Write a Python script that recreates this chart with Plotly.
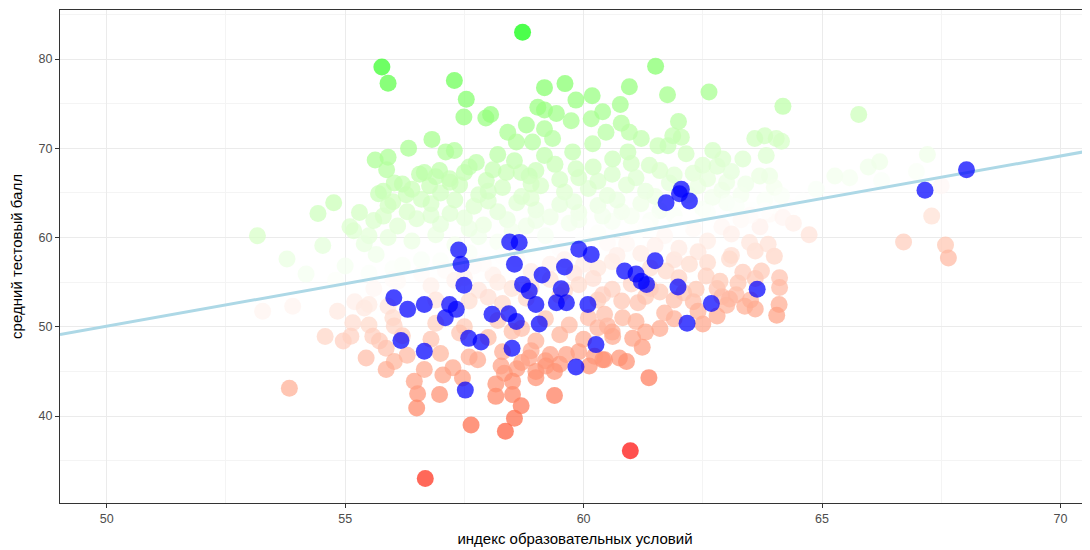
import numpy as np
import plotly.graph_objects as go

# ---------------- data ----------------
# regression line: y = trend_intercept + trend_slope * x
trend_intercept = 2.36
trend_slope = 0.954

# schools, upper (green) part of the cloud
upper_pts = [
    (58.72, 83.0), (55.77, 79.1), (55.9, 77.3), (57.29, 77.6), (57.54, 75.5), (57.49, 73.5),
    (57.95, 73.4), (58.05, 73.8), (59.18, 76.8), (59.61, 77.25), (59.84, 75.4), (60.18, 75.9),
    (59.04, 74.6), (59.18, 74.3), (59.43, 73.9), (59.74, 73.1), (58.8, 72.6), (58.41, 71.8),
    (59.18, 72.2), (56.82, 71.0), (57.11, 69.6), (57.29, 69.75), (57.75, 68.4), (58.2, 69.3),
    (58.55, 68.6), (58.59, 70.7), (58.93, 70.7), (59.35, 71.1), (59.18, 69.2), (56.66, 67.3),
    (56.98, 67.5), (57.19, 66.6), (57.5, 67.3), (56.77, 65.8), (57.96, 66.4), (58.38, 67.3),
    (58.69, 67.3), (58.86, 66.9), (59.77, 69.6), (59.84, 67.7), (60.19, 70.5), (60.16, 73.3),
    (61.51, 79.2), (60.96, 76.9), (61.76, 76.0), (62.63, 76.3), (60.77, 74.9), (60.4, 74.1),
    (60.79, 72.8), (60.96, 71.8), (60.47, 71.8), (61.99, 73.0), (61.87, 71.4), (62.05, 71.25),
    (61.21, 71.1), (61.56, 70.3), (61.77, 70.3), (60.93, 69.6), (60.61, 68.8), (62.15, 69.4),
    (62.71, 69.75), (62.92, 68.8), (63.59, 71.1), (63.8, 71.4), (64.04, 71.1), (64.18, 74.7),
    (63.34, 68.8), (63.83, 69.2), (61.38, 68.1), (62.5, 68.1), (63.69, 66.9), (63.9, 66.9),
    (64.15, 70.8), (65.77, 73.8), (56.33, 70.0), (55.63, 68.7), (55.9, 69.0), (55.87, 67.6),
    (56.03, 66.1), (55.8, 65.2), (56.28, 64.8), (56.56, 67.1), (54.76, 63.9), (54.43, 62.7),
    (53.16, 60.2), (55.18, 60.75), (55.5, 60.2), (54.53, 59.1), (53.78, 57.6), (54.18, 55.9),
    (55.0, 56.8), (55.65, 58.1),
]

# schools, dense middle band
middle_pts = [
    (56.2, 66.0), (56.9, 66.8), (57.6, 67.9), (58.1, 67.6), (59.0, 67.5), (59.4, 68.2), (60.2, 67.9),
    (60.6, 67.1), (61.0, 68.3), (61.6, 67.5), (62.3, 67.2), (62.8, 68.0), (63.1, 67.4), (59.9, 66.7),
    (55.7, 64.9), (56.4, 65.4), (57.0, 65.0), (57.4, 65.9), (57.8, 64.8), (58.3, 65.6), (58.7, 64.6),
    (59.1, 65.8), (59.6, 65.1), (60.1, 65.5), (60.5, 64.7), (60.9, 65.9), (61.3, 65.2), (61.8, 66.1),
    (62.4, 65.8), (62.9, 65.3), (63.4, 66.0), (64.0, 65.6),
    (55.3, 62.8), (55.9, 63.6), (56.3, 62.9), (56.8, 63.8), (57.2, 62.7), (57.7, 63.5), (58.2, 62.9),
    (58.6, 63.9), (59.0, 63.1), (59.5, 63.7), (59.9, 62.8), (60.3, 63.6), (60.8, 62.9), (61.2, 63.8),
    (61.6, 63.0), (62.5, 63.2), (63.0, 63.9), (63.5, 63.1), (63.9, 62.6), (64.3, 63.5),
    (55.1, 61.2), (55.6, 61.9), (56.1, 61.3), (56.5, 62.1), (57.0, 61.5), (57.5, 62.2), (57.9, 61.4),
    (58.4, 62.0), (58.8, 61.3), (59.3, 62.3), (59.7, 61.6), (60.6, 61.8), (61.0, 62.4), (61.4, 61.9),
    (61.9, 62.5), (62.3, 61.8), (62.8, 62.3), (63.3, 62.0), (63.7, 61.2), (64.4, 61.6),
    (55.4, 59.3), (55.9, 60.0), (56.4, 59.6), (56.9, 60.3), (57.3, 59.2), (57.8, 60.1), (58.2, 59.5),
    (54.8, 55.2), (55.5, 56.0), (56.2, 56.9), (57.0, 57.4), (57.6, 58.3), (58.3, 57.9), (58.9, 58.9),
    (59.5, 58.8), (60.0, 59.9), (60.5, 59.4), (61.1, 60.6), (61.7, 60.2), (62.3, 61.0), (62.9, 61.2),
    (63.5, 62.5), (64.0, 63.6), (64.6, 64.1), (60.3, 60.5), (59.2, 60.2), (58.6, 59.1), (57.4, 58.2),
    (56.0, 56.5), (56.6, 55.9), (57.1, 56.3), (57.7, 56.8), (58.1, 55.8), (58.9, 56.2), (59.3, 57.0),
    (59.8, 56.0), (60.3, 56.6), (60.6, 57.3), (61.4, 56.6), (61.9, 57.5), (62.6, 57.2), (63.1, 58.0),
    (63.6, 58.5), (64.0, 57.9),
    (55.6, 54.3), (56.1, 55.1), (56.8, 54.6), (57.3, 55.2), (57.8, 54.1), (58.2, 55.0), (58.9, 54.4),
    (59.3, 55.3), (59.9, 54.7), (60.2, 55.4), (60.6, 54.2), (61.0, 54.8), (61.6, 53.9), (62.0, 55.5),
    (62.8, 54.3), (63.2, 53.6), (63.6, 55.4),
    (55.2, 52.8), (55.9, 52.3), (56.9, 53.0), (57.6, 52.9), (58.0, 53.3), (58.3, 52.6), (58.8, 53.2),
    (59.5, 53.5), (60.3, 53.0), (60.8, 52.9), (61.3, 53.4), (61.9, 53.0), (62.3, 52.8), (63.0, 52.4),
    (63.5, 53.0), (64.1, 52.5),
    (55.5, 50.2), (56.0, 51.0), (56.9, 50.4), (57.5, 50.0), (58.2, 50.7), (58.7, 49.8), (59.2, 50.9),
    (59.7, 50.2), (60.1, 51.0), (60.5, 50.1), (61.1, 50.6), (61.6, 49.8), (62.5, 50.3),
    (56.2, 49.0), (56.8, 48.6), (57.4, 49.3), (58.0, 48.8), (58.5, 49.5), (59.0, 48.4), (59.5, 49.1),
    (60.0, 48.6), (60.6, 49.4),
    (56.3, 46.8), (57.0, 47.0), (57.6, 46.6), (58.3, 47.2), (58.7, 46.0), (59.3, 46.9), (59.9, 47.2),
    (60.4, 46.3), (58.9, 47.3), (59.2, 46.2), (58.6, 45.3), (59.5, 45.8), (59.0, 44.3),
    (56.0, 64.0), (56.6, 64.3), (57.3, 64.2), (58.0, 64.1), (58.9, 64.4), (59.8, 64.0), (60.7, 64.2),
    (61.5, 64.6), (62.2, 64.8), (62.7, 64.5), (63.3, 64.8), (63.8, 64.2),
    (55.8, 62.4), (56.8, 62.5), (57.6, 61.0), (58.5, 60.7), (59.0, 61.9), (59.9, 62.0), (60.4, 62.4),
    (61.3, 61.2), (62.0, 61.5), (62.6, 62.8), (63.2, 63.5), (63.8, 63.0),
    (57.2, 66.2), (58.0, 65.2), (58.9, 66.0), (59.5, 66.5), (60.3, 66.3), (61.1, 66.7), (61.9, 67.0),
    (62.6, 66.6), (63.0, 66.2),
    (60.9, 59.3), (61.5, 59.1), (62.0, 58.8), (62.6, 59.6), (63.1, 60.4), (62.4, 58.4), (61.2, 58.2),
    (60.7, 58.0), (59.6, 57.5), (60.0, 57.0), (58.6, 57.6), (57.9, 57.1), (56.6, 57.5), (56.0, 55.3),
    (57.5, 55.5), (58.5, 54.3), (59.6, 54.0), (60.4, 53.6), (61.4, 54.3), (62.1, 53.8), (62.9, 53.4),
    (63.6, 52.0), (62.8, 51.2), (61.9, 50.9), (61.3, 49.4), (60.3, 49.9),
]

# schools, right side
right_pts = [
    (65.27, 66.9), (65.58, 66.7), (65.97, 67.9), (66.21, 68.5), (67.21, 69.3), (66.98, 67.4),
    (66.25, 66.4), (64.88, 65.4), (64.15, 64.7), (67.5, 65.8),
    (64.18, 62.25), (64.73, 60.3), (67.3, 62.4), (66.71, 59.5), (67.59, 59.15), (67.65, 57.7),
    (64.11, 55.5), (64.11, 54.4), (64.05, 51.3),
]

# schools, lower (red) part of the cloud
lower_pts = [
    (61.37, 44.3), (60.98, 36.1), (61.23, 47.7), (61.03, 48.7), (60.75, 46.5), (60.9, 46.1),
    (60.44, 46.3), (60.61, 48.9), (60.82, 51.0), (61.14, 52.7), (61.7, 51.55), (62.4, 51.75),
    (63.06, 53.1), (63.38, 52.3), (63.24, 54.9), (62.86, 55.1), (62.57, 55.7), (62.36, 54.2),
    (63.73, 56.25), (63.34, 56.1), (63.06, 57.6), (62.22, 57.0), (61.73, 56.25), (60.44, 51.4),
    (63.48, 59.45), (63.87, 59.25),
    (57.64, 39.0), (58.36, 38.3), (58.55, 39.75), (58.69, 41.15), (58.16, 42.2), (58.51, 42.4),
    (58.16, 43.6), (58.34, 44.8), (58.51, 43.9), (58.27, 45.6), (59.39, 42.3), (56.98, 42.4),
    (56.52, 42.5), (56.5, 40.9), (57.05, 44.6), (57.26, 45.4), (57.46, 44.25), (56.66, 45.2),
    (57.78, 46.3), (58.86, 46.5), (59.0, 45.0), (59.39, 45.0), (59.21, 45.6), (59.64, 46.9),
    (60.12, 45.6), (60.23, 46.7), (56.68, 33.0),
    (53.83, 43.1), (53.27, 51.75), (53.9, 52.3), (54.58, 48.9), (54.84, 51.75), (54.96, 48.4),
    (55.16, 50.45), (55.12, 48.95), (55.44, 46.5), (55.4, 52.1), (55.5, 52.5), (55.58, 48.95),
    (55.72, 48.4), (55.86, 47.6), (56.03, 46.1), (55.86, 45.2), (56.45, 43.9), (56.03, 50.1),
]

# highlighted (blue) schools
focus_pts = [
    (57.38, 58.6), (57.43, 57.0), (57.49, 54.65), (56.66, 52.5), (57.19, 52.5), (57.33, 51.95),
    (57.1, 51.0), (58.08, 51.4), (58.43, 51.45), (58.59, 50.6), (57.59, 48.7), (57.85, 48.3),
    (56.66, 47.25), (58.5, 47.6), (57.52, 42.9), (58.55, 57.0), (58.45, 59.5), (58.65, 59.45),
    (58.72, 54.75), (58.86, 54.0), (59.0, 52.5), (59.07, 50.3), (59.13, 55.8), (59.6, 56.7),
    (59.53, 54.25), (59.43, 52.7), (59.64, 52.7), (60.09, 52.5), (59.9, 58.7), (60.16, 58.1),
    (59.84, 45.5), (60.26, 48.0), (56.02, 53.25), (56.31, 51.95), (56.17, 48.45), (61.5, 57.4),
    (60.86, 56.25), (61.1, 55.9), (61.21, 55.1), (61.32, 54.75), (61.98, 54.45), (62.68, 52.6),
    (63.64, 54.2), (62.17, 50.4), (61.73, 63.9), (62.05, 65.4), (62.01, 64.9), (62.22, 64.1),
    (67.16, 65.3), (68.03, 67.6),
]

x_title = "индекс образовательных условий"
y_title = "средний тестовый балл"
x_ticks = [50, 55, 60, 65, 70]
y_ticks = [40, 50, 60, 70, 80]

# ---------------- colour scale (red - white - green, Lab interpolation) ----------------
def _lin(c):
    c = c / 255.0
    return c / 12.92 if c <= 0.04045 else ((c + 0.055) / 1.055) ** 2.4

def _gam(c):
    c = 12.92 * c if c <= 0.0031308 else 1.055 * c ** (1 / 2.4) - 0.055
    return int(round(min(max(c, 0), 1) * 255))

WX, WY, WZ = 0.95047, 1.0, 1.08883

def rgb2lab(rgb):
    r, g, b = (_lin(v) for v in rgb)
    X = 0.4124 * r + 0.3576 * g + 0.1805 * b
    Y = 0.2126 * r + 0.7152 * g + 0.0722 * b
    Z = 0.0193 * r + 0.1192 * g + 0.9505 * b
    def f(t):
        return t ** (1 / 3) if t > 0.008856 else 7.787 * t + 16 / 116
    fx, fy, fz = f(X / WX), f(Y / WY), f(Z / WZ)
    return (116 * fy - 16, 500 * (fx - fy), 200 * (fy - fz))

def lab2rgb(lab):
    L, a, b = lab
    fy = (L + 16) / 116
    fx = fy + a / 500
    fz = fy - b / 200
    def finv(t):
        return t ** 3 if t ** 3 > 0.008856 else (t - 16 / 116) / 7.787
    X, Y, Z = WX * finv(fx), WY * finv(fy), WZ * finv(fz)
    r = 3.2406 * X - 1.5372 * Y - 0.4986 * Z
    g = -0.9689 * X + 1.8758 * Y + 0.0415 * Z
    bb = 0.0557 * X - 0.2040 * Y + 1.0570 * Z
    return (_gam(r), _gam(g), _gam(bb))

low, mid, high = rgb2lab((255, 0, 0)), rgb2lab((255, 255, 255)), rgb2lab((0, 255, 0))
colorscale = []
for t in np.linspace(0, 1, 41):
    if t <= 0.5:
        s = t / 0.5
        lab = tuple(low[i] + (mid[i] - low[i]) * s for i in range(3))
    else:
        s = (t - 0.5) / 0.5
        lab = tuple(mid[i] + (high[i] - mid[i]) * s for i in range(3))
    r, g, b = lab2rgb(lab)
    colorscale.append([float(t), f"rgb({r},{g},{b})"])

# ---------------- figure ----------------
all_pts = upper_pts + middle_pts + right_pts + lower_pts
sx = np.array([p[0] for p in all_pts])
sy = np.array([p[1] for p in all_pts])
resid = sy - (trend_intercept + trend_slope * sx)
lim = float(np.abs(resid).max())

fx_ = [p[0] for p in focus_pts]
fy_ = [p[1] for p in focus_pts]

x_range = [49.02, 70.62]
y_range = [30.25, 85.5]

fig = go.Figure()
fig.add_trace(go.Scatter(
    x=sx, y=sy, mode="markers",
    marker=dict(size=17, color=resid, colorscale=colorscale, cmin=-lim, cmax=lim,
                opacity=0.7, line=dict(width=0)),
    showlegend=False, hoverinfo="skip"))

line_x = np.array(x_range)
fig.add_trace(go.Scatter(
    x=line_x, y=trend_intercept + trend_slope * line_x, mode="lines",
    line=dict(color="#ADD8E6", width=3), showlegend=False, hoverinfo="skip"))

fig.add_trace(go.Scatter(
    x=fx_, y=fy_, mode="markers",
    marker=dict(size=17, color="#0000FF", opacity=0.72, line=dict(width=0)),
    showlegend=False, hoverinfo="skip"))

axis_common = dict(
    showgrid=True, gridcolor="#EBEBEB", gridwidth=1.1,
    zeroline=False, showline=True, linecolor="#333333", linewidth=1.1,
    ticks="outside", ticklen=4, tickwidth=1, tickcolor="#333333",
    tickfont=dict(size=12.5, color="#4D4D4D"),
)

# the page body adds an 8px offset, so the figure is 8px smaller and margins shifted
fig.update_layout(
    width=1082, height=542,
    margin=dict(l=52, r=0, t=2, b=47),
    paper_bgcolor="white", plot_bgcolor="white",
    font=dict(family="Liberation Sans, Arial, sans-serif"),
    xaxis=dict(axis_common, range=x_range, tickvals=x_ticks, mirror=True,
               minor=dict(dtick=2.5, tick0=0, showgrid=True, gridcolor="#F4F4F4", gridwidth=0.6),
               title=dict(text=x_title, font=dict(size=15, color="#000000"), standoff=8)),
    yaxis=dict(axis_common, range=y_range, tickvals=y_ticks,
               minor=dict(dtick=5, tick0=0, showgrid=True, gridcolor="#F4F4F4", gridwidth=0.6),
               title=dict(text=y_title, font=dict(size=15, color="#000000"), standoff=13)),
)

fig.write_html("out.html")
